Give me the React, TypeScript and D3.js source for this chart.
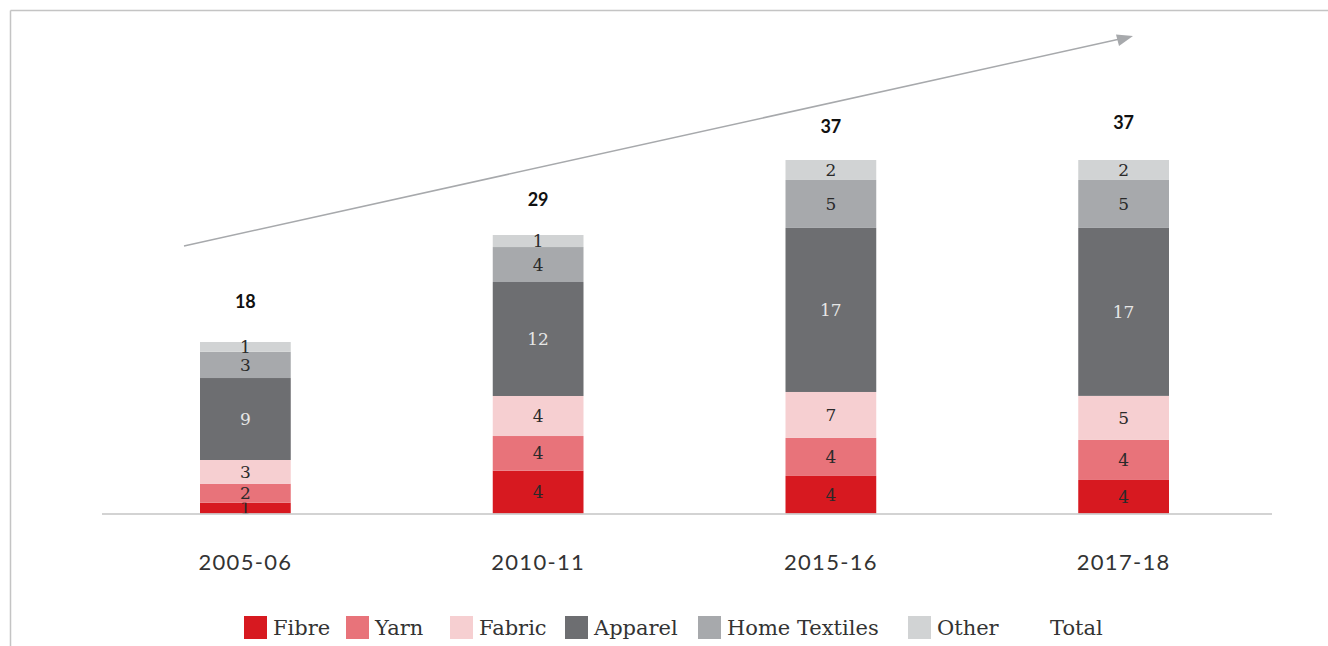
import React from "react";
import * as d3 from "d3";

const categories = ["2005-06", "2010-11", "2015-16", "2017-18"];
const seriesNames = ["Fibre", "Yarn", "Fabric", "Apparel", "Home Textiles", "Other"];
// segment heights (USD bn)
const fibre = [1.13, 4.48, 3.93, 3.51];
const yarn = [1.99, 3.63, 3.98, 4.19];
const fabric = [2.48, 4.19, 4.81, 4.61];
const apparel = [8.58, 11.93, 17.17, 17.58];
const homeTextiles = [2.75, 3.66, 5.02, 5.02];
const other = [1.02, 1.26, 2.09, 2.09];
// printed labels
const fibreLabels = ["1", "4", "4", "4"];
const yarnLabels = ["2", "4", "4", "4"];
const fabricLabels = ["3", "4", "7", "5"];
const apparelLabels = ["9", "12", "17", "17"];
const homeLabels = ["3", "4", "5", "5"];
const otherLabels = ["1", "1", "2", "2"];
const totalLabels = ["18", "29", "37", "37"];
const totalOffsets = [40, 35, 33, 37];

const colors = ["#D71920", "#E8737A", "#F6CFD1", "#6D6E71", "#A7A9AC", "#D1D3D4"];
const labelColors = ["#2a2a2a", "#2a2a2a", "#2a2a2a", "#e6e6e6", "#2a2a2a", "#2a2a2a"];
const legendX = [244, 346, 450, 565, 698, 908, 1020];

const W = 1328;
const H = 646;

export default function App() {
  const seriesValues = [fibre, yarn, fabric, apparel, homeTextiles, other];
  const seriesLabels = [fibreLabels, yarnLabels, fabricLabels, apparelLabels, homeLabels, otherLabels];
  const rows = categories.map((c, i) => {
    const r: any = { cat: c };
    seriesNames.forEach((s, j) => (r[s] = seriesValues[j][i]));
    return r;
  });
  const stack = d3.stack().keys(seriesNames)(rows as any);

  const x = d3.scaleBand().domain(categories).range([99, 1270]).paddingInner(0.69).paddingOuter(0.345);
  const y = d3.scaleLinear().domain([0, 40]).range([513.5, 513.5 - 40 * 9.554]);

  const sans = "Lato, 'Open Sans', sans-serif";
  const serif = "'DejaVu Serif', serif";

  const legendItems = [...seriesNames, "Total"];

  return (
    <svg width={W} height={H} style={{ position: "absolute", left: 0, top: 0, background: "#fff" }}>
      {/* frame */}
      <line x1={10.5} y1={10.5} x2={W} y2={10.5} stroke="#c4c4c4" strokeWidth={1.5} />
      <line x1={10.5} y1={10.5} x2={10.5} y2={H} stroke="#c4c4c4" strokeWidth={1.5} />

      {/* trend arrow */}
      <line x1={184} y1={246} x2={1130} y2={36.7} stroke="#A7A9AC" strokeWidth={1.5} />
      <path d="M1133,36 L1116,34.5 L1119,46 z" fill="#A7A9AC" />

      {/* bars */}
      {stack.map((s, j) => (
        <g key={s.key}>
          {s.map((d, i) => {
            const bx = x(categories[i])!;
            const y0 = y(d[0]);
            const y1 = y(d[1]);
            return (
              <g key={i}>
                <rect x={bx} y={y1} width={x.bandwidth()} height={y0 - y1} fill={colors[j]} />
                <text
                  x={bx + x.bandwidth() / 2}
                  y={(y0 + y1) / 2}
                  dy="0.36em"
                  textAnchor="middle"
                  fontFamily={serif}
                  fontWeight={300}
                  fontSize={17}
                  fill={labelColors[j]}
                >
                  {seriesLabels[j][i]}
                </text>
              </g>
            );
          })}
        </g>
      ))}

      {/* totals */}
      {categories.map((c, i) => {
        const top = stack[stack.length - 1][i][1];
        return (
          <text
            key={c}
            x={x(c)! + x.bandwidth() / 2}
            y={y(top) - totalOffsets[i]}
            dy="0.35em"
            textAnchor="middle"
            fontFamily={sans}
            fontWeight={700}
            fontSize={18}
            fill="#111"
          >
            {totalLabels[i]}
          </text>
        );
      })}

      {/* axis line */}
      <line x1={102} y1={514} x2={1272} y2={514} stroke="#c4c4c4" strokeWidth={1.5} />
      {categories.map((c) => (
        <text
          key={c}
          x={x(c)! + x.bandwidth() / 2}
          y={562}
          dy="0.35em"
          textAnchor="middle"
          fontFamily={sans}
          fontWeight={400}
          fontSize={22}
          letterSpacing={1.3}
          fill="#333"
        >
          {c}
        </text>
      ))}

      {/* legend */}
      {legendItems.map((name, k) => (
        <g key={name} transform={`translate(${legendX[k]},616)`}>
          {k < colors.length && <rect width={23} height={23} fill={colors[k]} />}
          <text x={k < colors.length ? 29 : 30} y={12} dy="0.35em" fontFamily={serif} fontSize={21} fill="#333">
            {name}
          </text>
        </g>
      ))}
    </svg>
  );
}
